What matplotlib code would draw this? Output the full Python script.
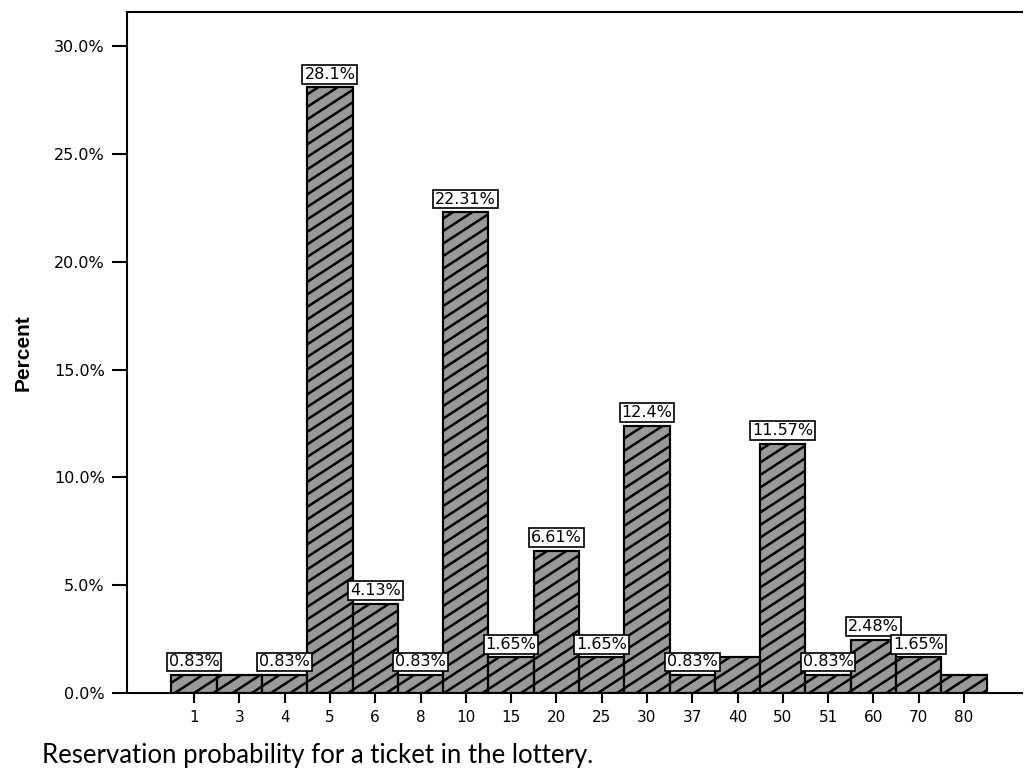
import matplotlib
matplotlib.use("Agg")
import matplotlib.pyplot as plt
from matplotlib.collections import LineCollection
import numpy as np

# values
categories = ["1", "3", "4", "5", "6", "8", "10", "15", "20", "25",
              "30", "37", "40", "50", "51", "60", "70", "80"]
percent = [0.83, 0.83, 0.83, 28.1, 4.13, 0.83, 22.31, 1.65, 6.61, 1.65,
           12.4, 0.83, 1.65, 11.57, 0.83, 2.48, 1.65, 0.83]
# bars that carry a value box (some in the original have none)
shown = [True, False, True, True, True, True, True, True, True, True,
         True, True, False, True, True, True, True, False]
y_ticks = [0, 5, 10, 15, 20, 25, 30]

plt.rcParams['font.family'] = ['DejaVu Sans']

fig = plt.figure(figsize=(10.24, 7.71), dpi=100)
ax = fig.add_axes([127 / 1024, 78 / 771, (1022 - 127) / 1024, (693 - 12) / 771])
ax.set_xlim(-1.48, 18.28)
ax.set_ylim(0, 31.6)

x = np.arange(len(categories))
bars = ax.bar(x, percent, width=1.0, color='#999999', edgecolor='black',
              linewidth=1.5, zorder=2)

# SPSS-like diagonal hatch: flatter and wider spaced than matplotlib's '//'
bb = ax.get_position()
px_x = bb.width * fig.get_figwidth() * fig.dpi / (ax.get_xlim()[1] - ax.get_xlim()[0])
px_y = bb.height * fig.get_figheight() * fig.dpi / (ax.get_ylim()[1] - ax.get_ylim()[0])
slope = 0.65 * px_x / px_y          # in data units
step = 12.5 / px_y                  # vertical gap between stripes
for rect in bars:
    x0, x1 = rect.get_x(), rect.get_x() + rect.get_width()
    top = rect.get_height()
    k0 = int(np.floor((0 - slope * x1) / step)) - 1
    k1 = int(np.ceil((top - slope * x0) / step)) + 1
    segs = [[(x0, slope * x0 + k * step), (x1, slope * x1 + k * step)] for k in range(k0, k1)]
    lc = LineCollection(segs, colors='black', linewidths=1.8, zorder=2.5)
    ax.add_collection(lc)
    lc.set_clip_path(rect)  # after add_collection, which would reset it
    # outline again on top of the stripes
    ax.add_patch(plt.Rectangle((x0, 0), x1 - x0, top, fill=False, ec='black', lw=1.5, zorder=2.6))

for xi, val, lab in zip(x, percent, shown):
    if not lab:
        continue
    ax.annotate(f"{val:g}%", (xi, val), xytext=(0, 9.5), textcoords='offset points',
                ha='center', va='center', fontsize=11.5,
                bbox=dict(boxstyle='square,pad=0.12', fc='white', ec='black', lw=1.2),
                zorder=3)

ax.set_xticks(x)
ax.set_xticklabels(categories, fontsize=11)
ax.set_yticks(y_ticks)
ax.set_yticklabels([f"{t:.1f}%" for t in y_ticks], fontsize=11.5)
ax.tick_params(axis='x', direction='out', length=7, width=1.5, pad=5)
ax.tick_params(axis='y', direction='out', length=11, width=1.5, pad=5)

for side in ['left', 'top', 'bottom']:
    ax.spines[side].set_linewidth(1.5)
ax.spines['right'].set_visible(False)

ax.set_ylabel("Percent", fontsize=15, fontweight='bold', family=['Liberation Sans'])
ax.yaxis.set_label_coords(-0.105, 0.5)

fig.text(42 / 1024, 1 - 755 / 771, "Reservation probability for a ticket in the lottery.",
         fontsize=18.5, family=['Lato', 'DejaVu Sans'], ha='left', va='center')

fig.savefig("out.png", dpi=100)
